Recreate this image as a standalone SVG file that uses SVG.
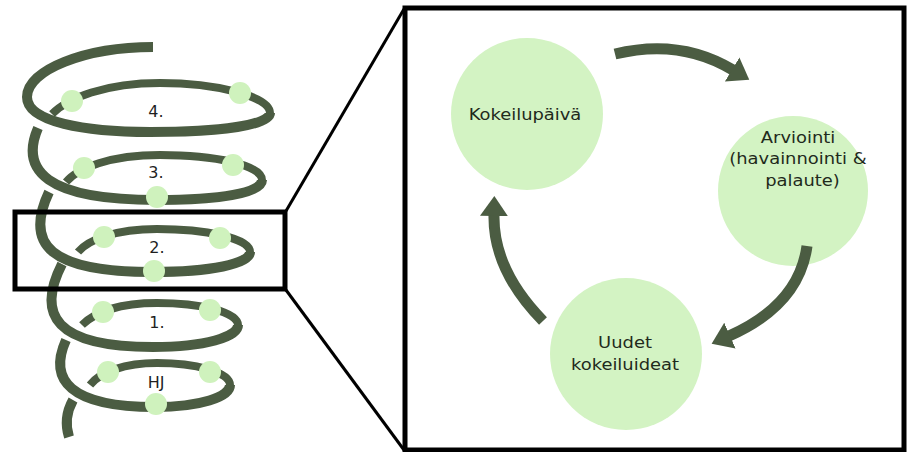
<svg xmlns="http://www.w3.org/2000/svg" width="908" height="452" viewBox="0 0 908 452">
  <style>
    .coil-front { fill: none; stroke: #4b5c42; stroke-width: 10; stroke-linecap: butt; }
    .coil-back { fill: none; stroke: #4b5c42; stroke-width: 8; stroke-linecap: butt; }
    .bead { fill: #cff2bd; }
    .level { font-family: "DejaVu Sans", sans-serif; font-size: 16px; fill: #1f1f1f; text-anchor: middle; }
    .stage { fill: #d3f3c3; }
    .stage-text { font-family: "DejaVu Sans", sans-serif; font-size: 16px; fill: #1f2a1c; text-anchor: middle; }
    .frame { fill: none; stroke: #000; stroke-width: 5; }
    .zoom-line { stroke: #000; stroke-width: 3; }
    .flow { fill: none; stroke: #4b5c42; stroke-width: 11; stroke-linecap: butt; marker-end: url(#head); }
  </style>
  <defs>
    <marker id="head" markerUnits="userSpaceOnUse" markerWidth="24" markerHeight="32" viewBox="0 -16 24 32" refX="1" refY="0" orient="auto">
      <path d="M0,-14 L20,0 L0,14 z" fill="#4b5c42"/>
    </marker>
  </defs>

  <rect width="908" height="452" fill="#ffffff"/>

  <!-- spiral of iteration rounds -->
  <g id="spiral">
    <!-- back halves of each turn -->
    <path class="coil-back" d="M270,113 C270,96 215,83 160,83 C105,83 68,98 52,114"/>
    <path class="coil-back" d="M262,180 C262,165 215,155 160,155 C110,155 78,168 66,182"/>
    <path class="coil-back" d="M250,252 C250,238 205,229 157,229 C115,229 88,240 78,252"/>
    <path class="coil-back" d="M238,325 C238,312 200,303 157,303 C120,303 95,312 82,325"/>
    <path class="coil-back" d="M230,385 C230,372 195,363 157,363 C125,363 100,372 90,385"/>
    <!-- front halves of each turn -->
    <path class="coil-front" d="M153,47 C85,47 27,70 27,97 C27,122 85,132 150,132 C220,132 270,125 270,113"/>
    <path class="coil-front" d="M38,128 C20,170 45,200 157,200 C220,200 262,193 262,180"/>
    <path class="coil-front" d="M49,192 C24,245 50,272 153,272 C210,272 250,264 250,252"/>
    <path class="coil-front" d="M62,264 C36,315 55,347 153,347 C205,347 238,337 238,325"/>
    <path class="coil-front" d="M66,340 C48,380 70,407 155,407 C200,407 230,397 230,385"/>
    <path class="coil-front" d="M73,400 Q63,418 69,437"/>
  </g>

  <g id="round-4">
    <circle class="bead" cx="72" cy="101" r="11"/>
    <circle class="bead" cx="240" cy="93" r="11"/>
    <text class="level" x="156" y="117">4.</text>
  </g>
  <g id="round-3">
    <circle class="bead" cx="84" cy="168" r="11"/>
    <circle class="bead" cx="233" cy="165" r="11"/>
    <circle class="bead" cx="157" cy="197" r="11"/>
    <text class="level" x="156" y="178">3.</text>
  </g>
  <g id="round-2">
    <circle class="bead" cx="104" cy="237" r="11"/>
    <circle class="bead" cx="220" cy="238" r="11"/>
    <circle class="bead" cx="154" cy="271" r="11"/>
    <text class="level" x="157" y="253">2.</text>
  </g>
  <g id="round-1">
    <circle class="bead" cx="103" cy="312" r="11"/>
    <circle class="bead" cx="210" cy="310" r="11"/>
    <text class="level" x="157" y="328">1.</text>
  </g>
  <g id="round-hj">
    <circle class="bead" cx="108" cy="372" r="11"/>
    <circle class="bead" cx="210" cy="372" r="11"/>
    <circle class="bead" cx="156" cy="404" r="11"/>
    <text class="level" x="156" y="388">HJ</text>
  </g>

  <!-- highlighted round and its enlargement -->
  <g id="highlight">
    <rect class="frame" x="15" y="212" width="270" height="77"/>
  </g>
  <g id="zoom-lines">
    <line class="zoom-line" x1="286" y1="211" x2="404" y2="9"/>
    <line class="zoom-line" x1="286" y1="290" x2="404" y2="450"/>
  </g>
  <g id="detail-frame">
    <rect class="frame" x="405" y="8" width="499" height="442"/>
  </g>

  <!-- cycle stages -->
  <g id="kokeilupaiva">
    <circle class="stage" cx="527" cy="114" r="76"/>
    <text class="stage-text" transform="translate(525 120) scale(1.12 1)">Kokeilupäivä</text>
  </g>
  <g id="arviointi">
    <circle class="stage" cx="793" cy="191" r="75"/>
    <g transform="translate(798 0) scale(1.12 1)">
      <text class="stage-text" x="0" y="143">Arviointi</text>
      <text class="stage-text" x="0" y="164">(havainnointi &amp;</text>
      <text class="stage-text" x="4" y="186">palaute)</text>
    </g>
  </g>
  <g id="uudet-kokeiluideat">
    <circle class="stage" cx="626" cy="354" r="76"/>
    <g transform="translate(625 0) scale(1.12 1)">
      <text class="stage-text" x="0" y="348">Uudet</text>
      <text class="stage-text" x="0" y="370">kokeiluideat</text>
    </g>
  </g>

  <!-- cycle arrows -->
  <g id="connectors">
    <path class="flow" d="M615,54 Q680,38 733,70"/>
    <path class="flow" d="M807,246 Q799,305 729,336"/>
    <path class="flow" d="M543,321 Q493,270 494,215"/>
  </g>
</svg>
